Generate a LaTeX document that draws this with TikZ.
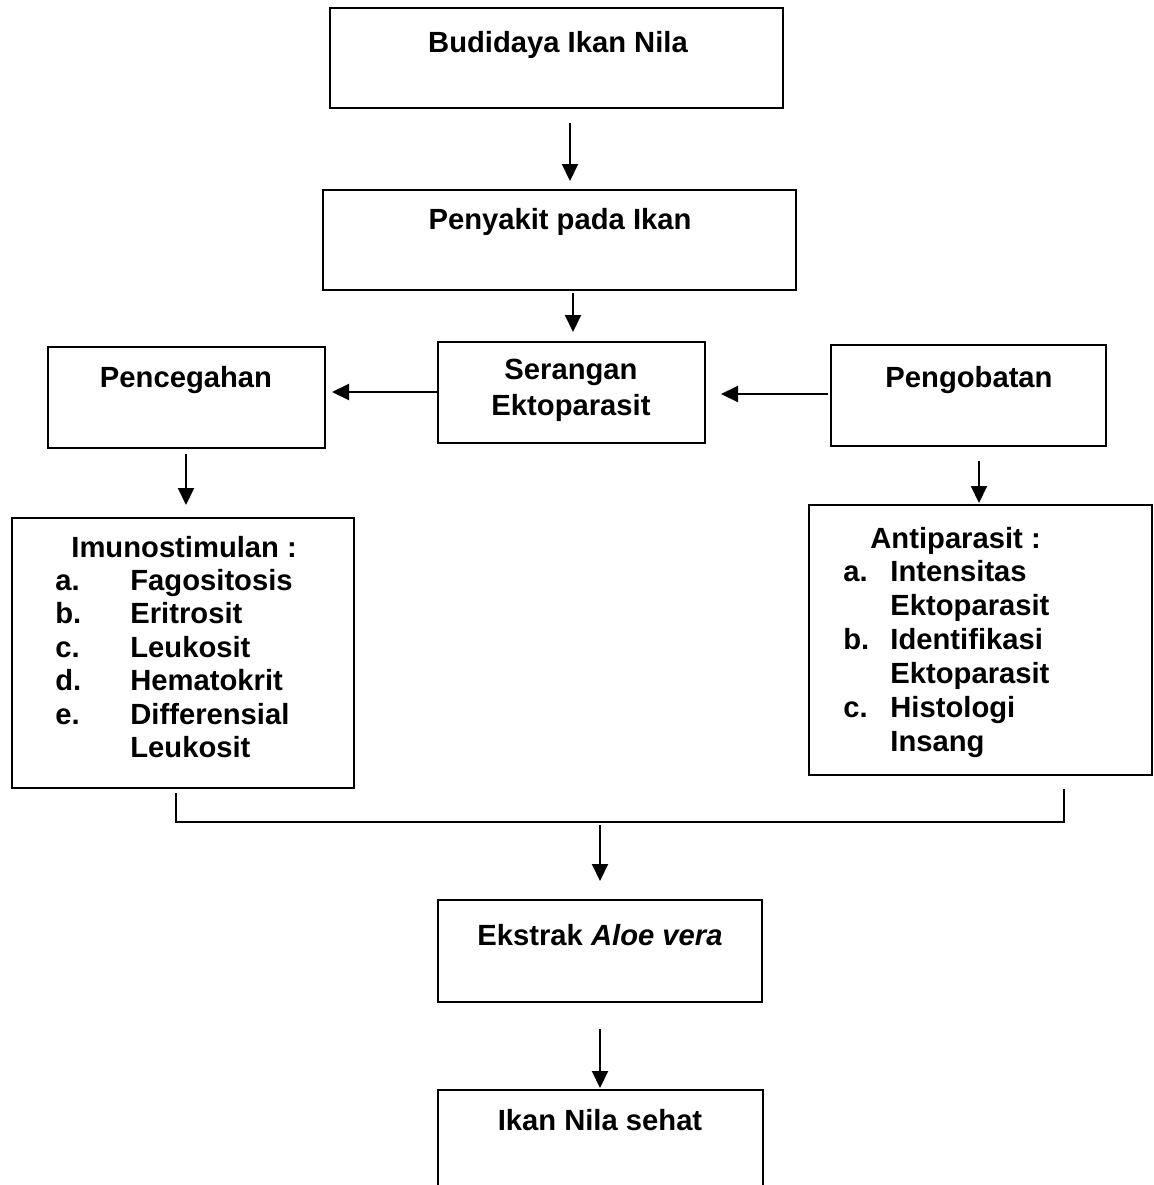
\documentclass[tikz,border=0pt]{standalone}
\usepackage{fontspec}
\setmainfont{Liberation Sans}
\usetikzlibrary{arrows.meta,calc}
\begin{document}
\begin{tikzpicture}[x=0.5pt,y=-0.5pt,
  box/.style={draw,line width=1pt,inner sep=0pt},
  txt/.style={anchor=base,inner sep=0pt,font=\fontsize{14.6}{17}\selectfont\bfseries},
  ltxt/.style={anchor=base west,inner sep=0pt,font=\fontsize{14.6}{17}\selectfont\bfseries},
  arr/.style={line width=1pt,-{Triangle[length=8.5pt,width=8pt]}},
  ln/.style={line width=1pt}]
\useasboundingbox (0,0) rectangle (1154,1185);
\begin{scope}
\clip (0,0) rectangle (1154,1185);
% boxes
\node[box,minimum width=226.5pt,minimum height=50pt] (b1) at (556.5,58) {};
\node[box,minimum width=236.5pt,minimum height=50pt] (b2) at (559.5,240) {};
\node[box,minimum width=133.5pt,minimum height=50.5pt] (ser) at (571.5,392.5) {};
\node[box,minimum width=138.5pt,minimum height=50.5pt] (pen) at (186.5,397.5) {};
\node[box,minimum width=137.5pt,minimum height=50.5pt] (peng) at (968.5,395.5) {};
\node[box,minimum width=171pt,minimum height=135pt] (imu) at (183,653) {};
\node[box,minimum width=171.5pt,minimum height=135pt] (anti) at (980.5,640) {};
\node[box,minimum width=162pt,minimum height=51pt] (eks) at (600,951) {};
\node[box,minimum width=162.5pt,minimum height=60pt] (seh) at (600.5,1150) {};
\end{scope}
% texts
\node[txt] (t1) at (558,52) {Budidaya Ikan Nila};
\node[txt] (t2) at (560,229) {Penyakit pada Ikan};
\node[txt] (t3a) at (571,379) {Serangan};
\node[txt] (t3b) at (571,415) {Ektoparasit};
\node[txt] (t4) at (186,387) {Pencegahan};
\node[txt] (t5) at (969,387) {Pengobatan};
\node[txt] (t6) at (600,945) {Ekstrak \textit{Aloe vera}};
\node[txt] (t7) at (600,1130) {Ikan Nila sehat};
% imunostimulan list
\node[ltxt] (i0) at (71,557) {Imunostimulan :};
\node[ltxt] (ia) at (55,590) {a.};
\node[ltxt] (ib) at (55,623.5) {b.};
\node[ltxt] (ic) at (55,657) {c.};
\node[ltxt] (id) at (55,690.5) {d.};
\node[ltxt] (ie) at (55,724) {e.};
\node[ltxt] (ia2) at (130,590) {Fagositosis};
\node[ltxt] (ib2) at (130,623.5) {Eritrosit};
\node[ltxt] (ic2) at (130,657) {Leukosit};
\node[ltxt] (id2) at (130,690.5) {Hematokrit};
\node[ltxt] (ie2) at (130,724) {Differensial};
\node[ltxt] (ie3) at (130,757.5) {Leukosit};
% antiparasit list
\node[ltxt] (a0) at (870,548) {Antiparasit :};
\node[ltxt] (aa) at (843,581) {a.};
\node[ltxt] (ab) at (843,649) {b.};
\node[ltxt] (ac) at (843,717) {c.};
\node[ltxt] (aa2) at (890,581) {Intensitas};
\node[ltxt] (aa3) at (890,615) {Ektoparasit};
\node[ltxt] (ab2) at (890,649) {Identifikasi};
\node[ltxt] (ab3) at (890,683) {Ektoparasit};
\node[ltxt] (ac2) at (890,717) {Histologi};
\node[ltxt] (ac3) at (890,751) {Insang};
% connectors
\draw[arr] ($(b1.south)+(13.5,14)$) -- ($(b2.north)+(10.5,-8)$);
\draw[arr] ($(b2.south)+(13.5,2)$) -- ($(ser.north)+(1.5,-9)$);
\draw[arr] (ser.west |- 0,392) -- ($(pen.east)+(6,-5.5)$);
\draw[arr] ($(peng.west)+(-2,-1.5)$) -- ($(ser.east)+(15,1.5)$);
\draw[arr] ($(pen.south)+(-0.5,5)$) -- ($(imu.north)+(3,-12)$);
\draw[arr] ($(peng.south)+(10.5,14)$) -- ($(anti.north)+(-1.5,-1)$);
\coordinate (jn) at (600,822);
\draw[ln] ($(imu.south)+(-7,4)$) |- (jn) -| ($(anti.south)+(83.5,13)$);
\draw[arr] ($(jn)+(0,3)$) -- ($(eks.north)+(0,-18)$);
\draw[arr] ($(eks.south)+(0,26)$) -- ($(seh.north)+(-0.5,-1)$);
\end{tikzpicture}
\end{document}
